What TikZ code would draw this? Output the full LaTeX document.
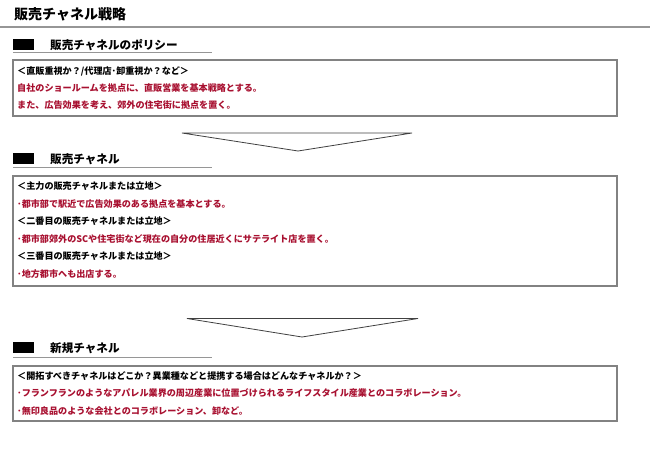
\documentclass[tikz,border=0pt]{standalone}
\usepackage{fontspec}
\setmainfont{Noto Sans CJK JP}
\definecolor{txtred}{RGB}{168,16,48}
\definecolor{boxgray}{RGB}{130,130,130}
\definecolor{linegray}{RGB}{150,150,150}
\begin{document}
\begin{tikzpicture}[x=1pt,y=-1pt,
  title/.style={anchor=west,inner sep=0pt,font=\fontsize{14}{14}\selectfont\bfseries},
  head/.style={anchor=west,inner sep=0pt,font=\fontsize{11.6}{11.6}\selectfont\bfseries},
  blk/.style={anchor=west,inner sep=0pt,font=\fontsize{9.1}{9.1}\selectfont\bfseries},
  redtxt/.style={blk,text=txtred},
  frame/.style={draw=boxgray,line width=1.1pt},
  blockmark/.style={fill=black},
  uline/.style={draw=linegray,line width=0.7pt},
  tri/.style={draw=black!75,line width=0.8pt,line join=miter}
]
\useasboundingbox (0,0) rectangle (650,455);
% title
\node[title] (title) at (14,14) {販売チャネル戦略};
\draw[draw=linegray,line width=2pt] (0,27) -- (650,27);

% section 1
\fill[blockmark] (13,39) rectangle (34,50);
\node[head] (h1) at (50,45) {販売チャネルのポリシー};
\draw[uline] (13,52.5) -- (212,52.5);
\draw[frame] (13,60) rectangle (617,116);
\node[blk] (b1a) at (17,71) {＜直販重視か？/代理店･卸重視か？など＞};
\node[redtxt] (b1b) at (17,88.5) {自社のショールームを拠点に、直販営業を基本戦略とする。};
\node[redtxt] (b1c) at (17,105.5) {また、広告効果を考え、郊外の住宅街に拠点を置く。};

% arrow 1
\draw[tri] (182,133) -- (412,133) -- (298,151) -- cycle;

% section 2
\fill[blockmark] (13,153) rectangle (34,164);
\node[head] (h2) at (50,159) {販売チャネル};
\draw[uline] (13,167) -- (212,167);
\draw[frame] (13,176) rectangle (617,286);
\node[blk] (b2a) at (17,186.5) {＜主力の販売チャネルまたは立地＞};
\node[redtxt] (b2b) at (17,204) {･都市部で駅近で広告効果のある拠点を基本とする。};
\node[blk] (b2c) at (17,221.5) {＜二番目の販売チャネルまたは立地＞};
\node[redtxt] (b2d) at (17,239) {･都市部郊外のSCや住宅街など現在の自分の住居近くにサテライト店を置く。};
\node[blk] (b2e) at (17,256.5) {＜三番目の販売チャネルまたは立地＞};
\node[redtxt] (b2f) at (17,274) {･地方都市へも出店する。};

% arrow 2
\draw[tri] (187,318.5) -- (418,318.5) -- (302,337) -- cycle;

% section 3
\fill[blockmark] (13,342) rectangle (34,353);
\node[head] (h3) at (50,348.5) {新規チャネル};
\draw[uline] (13,357) -- (212,357);
\draw[frame] (13,366) rectangle (617,421);
\node[blk] (b3a) at (17,376.5) {＜開拓すべきチャネルはどこか？異業種などと提携する場合はどんなチャネルか？＞};
\node[redtxt] (b3b) at (17,393.5) {･フランフランのようなアパレル業界の周辺産業に位置づけられるライフスタイル産業とのコラボレーション。};
\node[redtxt] (b3c) at (17,411) {･無印良品のような会社とのコラボレーション、卸など。};
\end{tikzpicture}
\end{document}
